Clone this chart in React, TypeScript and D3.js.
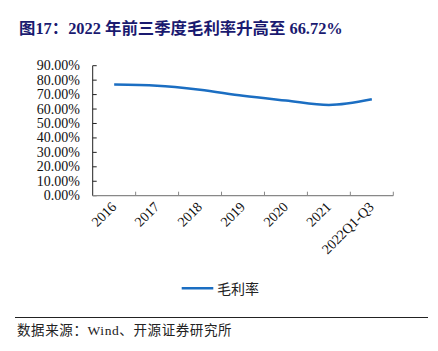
import React from 'react';
import * as d3 from 'd3';

const categories = ['2016', '2017', '2018', '2019', '2020', '2021', '2022Q1-Q3'];
const grossMargin = [76.9, 76.2, 73.4, 69.2, 65.9, 62.8, 66.72];
const yTicks = [0, 10, 20, 30, 40, 50, 60, 70, 80, 90];

const serif = '"Times New Roman", "Liberation Serif", "Noto Sans CJK SC", serif';
const cjk = '"Liberation Serif", "Noto Sans CJK SC", serif';

const App = () => {
  const width = 438;
  const height = 351;
  const left = 92.7;
  const right = 393.3;
  const top = 65.7;
  const bottom = 195.7;

  const x = d3.scaleBand().domain(categories).range([left, right]);
  const y = d3.scaleLinear().domain([0, 90]).range([bottom, top]);

  const line = d3.line<number>()
    .x((_, i) => (x(categories[i]) as number) + x.bandwidth() / 2)
    .y(d => y(d))
    .curve(d3.curveMonotoneX);

  const bounds = categories.map(c => x(c) as number).concat([right]);

  return (
    <svg width={width} height={height} style={{ position: 'absolute', left: 0, top: 0 }}>
      <rect width={width} height={height} fill="#fff" />
      <text x={19} y={34} fontFamily={serif} fontWeight="bold" fontSize={16.4} fill="#1a1a70">
        图17：2022 年前三季度毛利率升高至 66.72%
      </text>

      {/* y axis */}
      <line x1={left} x2={left} y1={top} y2={bottom} stroke="#222" />
      {yTicks.map(t => (
        <g key={t}>
          <line x1={left} x2={left + 4} y1={y(t)} y2={y(t)} stroke="#222" />
          <text x={80} y={y(t) + 4.5} textAnchor="end" fontFamily={serif} fontSize={14} fill="#111">
            {t.toFixed(2)}%
          </text>
        </g>
      ))}

      {/* x axis */}
      <line x1={left} x2={right} y1={bottom} y2={bottom} stroke="#888" strokeWidth={1.2} />
      {bounds.slice(1).map((b, i) => (
        <line key={i} x1={b} x2={b} y1={bottom} y2={bottom - 4} stroke="#888" />
      ))}
      {categories.map(c => {
        const cx = (x(c) as number) + x.bandwidth() / 2 + 3;
        const cy = bottom + 12;
        return (
          <text key={c} x={cx} y={cy} textAnchor="end" fontFamily={serif} fontSize={14} fill="#111"
            transform={`rotate(-45, ${cx}, ${cy})`}>
            {c}
          </text>
        );
      })}

      <path d={line(grossMargin) || ''} fill="none" stroke="#1b6ec2" strokeWidth={2.5} />

      {/* legend */}
      <line x1={181.7} x2={213.3} y1={288.3} y2={288.3} stroke="#1b6ec2" strokeWidth={2.5} />
      <text x={217} y={294} fontFamily={cjk} fontSize={14} fill="#222">毛利率</text>

      <line x1={15} x2={428} y1={317.5} y2={317.5} stroke="#222" strokeWidth={1} />
      <text x={17} y={335} fontFamily={cjk} fontSize={13.5} letterSpacing={0.6} fill="#222">数据来源：Wind、开源证券研究所</text>
    </svg>
  );
};

export default App;
